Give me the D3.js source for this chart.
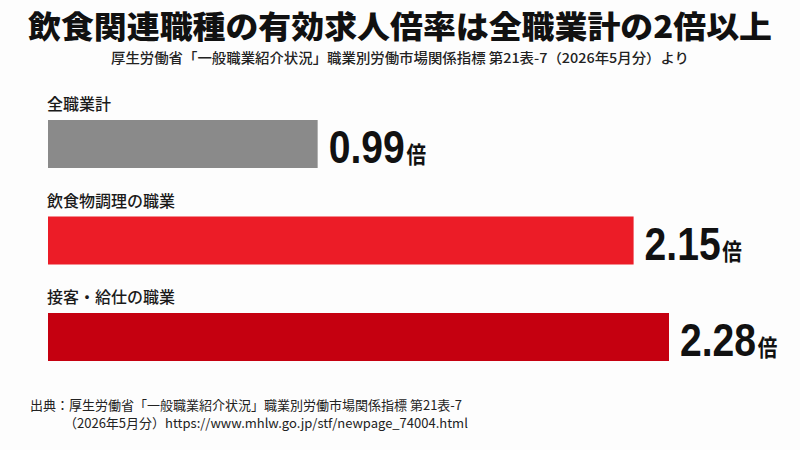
<!DOCTYPE html>
<html>
<head>
<meta charset="utf-8">
<script src="https://cdn.jsdelivr.net/npm/d3@7"></script>
<style>
  body { margin: 0; background: #fff; }
  svg { display: block; }
  text { font-family: "Noto Sans CJK JP", "Noto Sans", sans-serif; }
</style>
</head>
<body>
<svg id="chart" width="800" height="450"></svg>
<script>
// data
var categories = ["全職業計", "飲食物調理の職業", "接客・給仕の職業"];
var ratios = [0.99, 2.15, 2.28];
var barColors = ["#8a8a8a", "#ec1c27", "#c50010"];
var unit = "倍";

var TITLE = "飲食関連職種の有効求人倍率は全職業計の2倍以上";
var SUBTITLE = "厚生労働省「一般職業紹介状況」職業別労働市場関係指標 第21表-7（2026年5月分）より";
var SOURCE1 = "出典：厚生労働省「一般職業紹介状況」職業別労働市場関係指標 第21表-7";
var SOURCE2 = "（2026年5月分）https://www.mhlw.go.jp/stf/newpage_74004.html";

var WIDTH = 800, HEIGHT = 450;
var BAR_LEFT = 48;
var BAR_HEIGHT = 48;
var NUM_SQUEEZE = 0.85; // condensed look for the big numbers

var svg = d3.select("#chart");
svg.append("rect").attr("width", WIDTH).attr("height", HEIGHT).attr("fill", "#fdfdfd");

// title
svg.append("text")
    .attr("x", WIDTH/2).attr("y", 38)
    .attr("text-anchor", "middle")
    .attr("font-size", 31).attr("font-weight", 900)
    .attr("fill", "#111")
    .attr("textLength", 744).attr("lengthAdjust", "spacingAndGlyphs")
    .text(TITLE);

svg.append("text")
    .attr("x", WIDTH/2).attr("y", 63)
    .attr("text-anchor", "middle")
    .attr("font-size", 13.5).attr("font-weight", 500)
    .attr("fill", "#222")
    .attr("textLength", 578).attr("lengthAdjust", "spacingAndGlyphs")
    .text(SUBTITLE);

var xScale = d3.scaleLinear().domain([0, d3.max(ratios)]).range([0, 621]);
var yScale = d3.scaleBand().domain(categories).range([120, 120 + 96.5*3]).paddingInner(0);

var rows = svg.selectAll(".row")
    .data(categories)
    .enter().append("g")
    .attr("class", "row")
    .attr("transform", function(d){ return "translate(0," + yScale(d) + ")"; });

rows.append("text")
    .attr("x", BAR_LEFT - 1).attr("y", -10)
    .attr("font-size", 16).attr("font-weight", 500)
    .attr("fill", "#1a1a1a")
    .text(function(d){ return d; });

rows.append("rect")
    .attr("x", BAR_LEFT).attr("y", 0)
    .attr("height", BAR_HEIGHT)
    .attr("width", function(d,i){ return xScale(ratios[i]); })
    .attr("fill", function(d,i){ return barColors[i]; });

var val = rows.append("text")
    .attr("transform", function(d,i){
        return "translate(" + (BAR_LEFT + xScale(ratios[i]) + 11) + "," + (BAR_HEIGHT - 5) + ") scale(" + NUM_SQUEEZE + ",1)";
    })
    .attr("fill", "#111");
val.append("tspan")
    .attr("font-family", "'Liberation Sans', Arial, sans-serif")
    .attr("font-size", 46).attr("font-weight", 700)
    .text(function(d,i){ return ratios[i].toFixed(2); });
val.append("tspan")
    .attr("dx", 2)
    .attr("font-size", 23).attr("font-weight", 700)
    .text(unit);

// source
svg.append("text")
    .attr("x", 30).attr("y", 410)
    .attr("font-size", 13).attr("fill", "#222")
    .text(SOURCE1);
svg.append("text")
    .attr("x", 64).attr("y", 428)
    .attr("font-size", 13).attr("fill", "#222")
    .text(SOURCE2);
</script>
</body>
</html>
